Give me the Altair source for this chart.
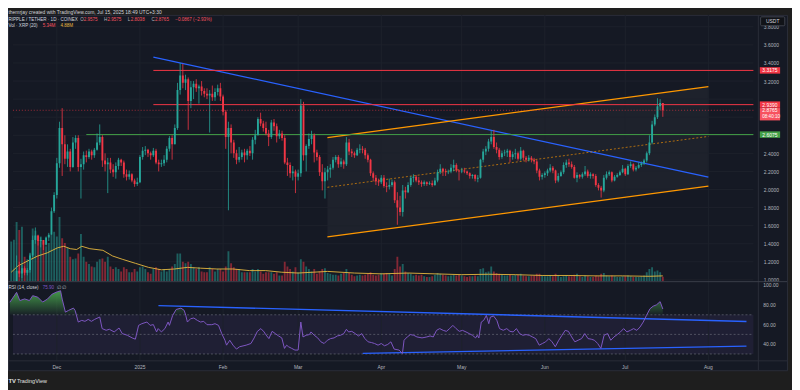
import altair as alt
import pandas as pd
import numpy as np

# ---------------- data ----------------
START_DATE = "2024-11-14"
FIRST_OPEN = 0.72

close_nov = [0.78, 0.90, 1.10, 1.07, 1.13, 1.08, 1.11, 1.27, 1.44, 1.49, 1.43, 1.44, 1.39, 1.47, 1.50, 1.76, 1.94]
high_nov = [0.81, 0.93, 1.27, 1.20, 1.17, 1.15, 1.13, 1.30, 1.49, 1.58, 1.50, 1.47, 1.44, 1.48, 1.52, 1.80, 1.97]
low_nov = [0.70, 0.77, 0.90, 1.03, 1.02, 1.05, 1.05, 1.08, 1.25, 1.40, 1.38, 1.36, 1.33, 1.38, 1.43, 1.50, 1.74]

close_dec = [2.29, 2.68, 2.50, 2.34, 2.42, 2.25, 2.52, 2.57, 2.25, 2.28, 2.38, 2.36, 2.42, 2.38, 2.44, 2.52,
             2.58, 2.32, 2.28, 2.30, 2.22, 2.19, 2.26, 2.33, 2.30, 2.17, 2.14, 2.17, 2.10, 2.06, 2.08]
high_dec = [2.35, 2.75, 2.90, 2.60, 2.50, 2.45, 2.58, 2.60, 2.60, 2.34, 2.42, 2.43, 2.45, 2.44, 2.46, 2.62,
            2.72, 2.60, 2.40, 2.35, 2.35, 2.28, 2.30, 2.35, 2.34, 2.32, 2.22, 2.21, 2.18, 2.12, 2.13]
low_dec = [1.90, 2.24, 2.15, 2.28, 2.25, 2.20, 2.24, 2.45, 2.20, 1.90, 2.22, 2.30, 2.34, 2.33, 2.35, 2.43,
           2.49, 2.25, 2.20, 1.96, 2.18, 2.14, 2.12, 2.22, 2.26, 2.13, 2.10, 2.11, 2.08, 2.03, 2.04]

close_jan = [2.36, 2.43, 2.44, 2.40, 2.38, 2.43, 2.30, 2.28, 2.29, 2.33, 2.45, 2.57, 2.50, 2.68, 3.10, 3.26,
             3.18, 3.22, 2.98, 3.13, 3.17, 3.12, 3.14, 3.09, 3.06, 3.04, 3.06, 3.02, 3.08, 3.12, 3.03]
high_jan = [2.38, 2.47, 2.48, 2.45, 2.42, 2.46, 2.45, 2.33, 2.33, 2.38, 2.48, 2.59, 2.60, 2.72, 3.18, 3.40,
            3.39, 3.27, 3.24, 3.20, 3.20, 3.22, 3.16, 3.20, 3.12, 3.12, 3.10, 3.15, 3.12, 3.16, 3.18]
low_jan = [2.07, 2.33, 2.38, 2.36, 2.33, 2.36, 2.28, 2.20, 2.25, 2.26, 2.30, 2.42, 2.33, 2.50, 2.66, 3.05,
           3.12, 3.10, 2.66, 2.90, 3.00, 3.08, 2.95, 3.04, 3.02, 3.00, 2.63, 2.98, 2.98, 3.04, 2.98]

close_feb = [2.86, 2.58, 2.68, 2.52, 2.40, 2.33, 2.36, 2.41, 2.38, 2.43, 2.40, 2.55, 2.60, 2.78, 2.73, 2.68,
             2.62, 2.58, 2.74, 2.70, 2.59, 2.62, 2.57, 2.30, 2.27, 2.18, 2.20, 2.14]
high_feb = [3.05, 2.88, 2.75, 2.72, 2.55, 2.44, 2.47, 2.44, 2.45, 2.45, 2.48, 2.58, 2.66, 2.80, 2.85, 2.76,
            2.75, 2.66, 2.77, 2.78, 2.73, 2.66, 2.65, 2.60, 2.35, 2.30, 2.26, 2.22]
low_feb = [2.82, 2.45, 1.77, 2.40, 2.35, 2.28, 2.30, 2.33, 2.30, 2.33, 2.37, 2.33, 2.50, 2.60, 2.70, 2.64,
           2.60, 2.48, 2.56, 2.65, 2.52, 2.56, 2.54, 2.28, 2.15, 2.13, 2.10, 1.96]

close_mar = [2.18, 2.93, 2.38, 2.48, 2.56, 2.60, 2.41, 2.36, 2.19, 2.09, 2.19, 2.22, 2.24, 2.33, 2.36, 2.28,
             2.31, 2.28, 2.52, 2.42, 2.40, 2.38, 2.44, 2.45, 2.44, 2.38, 2.33, 2.18, 2.13, 2.09, 2.08]
high_mar = [2.22, 3.00, 2.97, 2.50, 2.62, 2.65, 2.62, 2.44, 2.38, 2.28, 2.24, 2.26, 2.28, 2.36, 2.38, 2.38,
            2.35, 2.33, 2.58, 2.56, 2.45, 2.42, 2.46, 2.50, 2.48, 2.46, 2.40, 2.34, 2.20, 2.16, 2.12]
low_mar = [2.10, 2.14, 2.32, 2.20, 2.45, 2.50, 2.30, 2.32, 2.15, 1.99, 1.90, 2.10, 2.13, 2.22, 2.30, 2.24,
           2.25, 2.23, 2.26, 2.38, 2.36, 2.35, 2.37, 2.40, 2.40, 2.34, 2.30, 2.15, 2.09, 2.05, 2.04]

close_apr = [2.13, 2.04, 2.03, 2.05, 2.08, 1.88, 1.80, 1.75, 1.99, 1.97, 2.05, 2.13, 2.14, 2.10, 2.08, 2.06,
             2.08, 2.06, 2.07, 2.05, 2.10, 2.19, 2.23, 2.20, 2.19, 2.20, 2.24, 2.27, 2.21, 2.20]
high_apr = [2.16, 2.16, 2.08, 2.12, 2.11, 2.10, 1.97, 1.93, 2.05, 2.03, 2.08, 2.15, 2.17, 2.16, 2.14, 2.10,
            2.10, 2.09, 2.09, 2.10, 2.13, 2.22, 2.28, 2.24, 2.23, 2.22, 2.28, 2.33, 2.29, 2.22]
low_apr = [2.06, 2.02, 1.97, 2.00, 2.03, 1.85, 1.61, 1.71, 1.70, 1.90, 1.96, 2.03, 2.08, 2.08, 2.05, 2.03,
           2.04, 2.04, 2.05, 2.03, 2.04, 2.08, 2.17, 2.15, 2.15, 2.17, 2.18, 2.20, 2.19, 2.10]

close_may = [2.21, 2.20, 2.18, 2.15, 2.16, 2.12, 2.13, 2.33, 2.42, 2.45, 2.53, 2.58, 2.47, 2.44, 2.36, 2.40,
             2.41, 2.43, 2.36, 2.39, 2.40, 2.34, 2.43, 2.35, 2.33, 2.35, 2.33, 2.31, 2.21, 2.14, 2.16]
high_may = [2.24, 2.24, 2.21, 2.19, 2.17, 2.17, 2.16, 2.34, 2.45, 2.48, 2.56, 2.65, 2.66, 2.52, 2.46, 2.43,
            2.44, 2.45, 2.44, 2.42, 2.45, 2.42, 2.47, 2.44, 2.37, 2.38, 2.37, 2.35, 2.33, 2.23, 2.18]
low_may = [2.18, 2.18, 2.16, 2.12, 2.12, 2.09, 2.08, 2.12, 2.30, 2.38, 2.42, 2.50, 2.45, 2.40, 2.33, 2.34,
           2.37, 2.36, 2.30, 2.33, 2.34, 2.32, 2.32, 2.32, 2.30, 2.31, 2.30, 2.28, 2.18, 2.10, 2.11]

close_jun = [2.18, 2.21, 2.24, 2.21, 2.10, 2.15, 2.19, 2.27, 2.30, 2.28, 2.25, 2.13, 2.16, 2.14, 2.17, 2.20,
             2.15, 2.17, 2.15, 2.05, 2.02, 1.99, 2.13, 2.17, 2.19, 2.10, 2.14, 2.16, 2.19, 2.23]
high_jun = [2.20, 2.23, 2.28, 2.26, 2.22, 2.18, 2.21, 2.30, 2.33, 2.34, 2.31, 2.27, 2.19, 2.17, 2.19, 2.26,
            2.22, 2.19, 2.18, 2.17, 2.07, 2.04, 2.16, 2.20, 2.21, 2.20, 2.16, 2.18, 2.21, 2.27]
low_jun = [2.13, 2.15, 2.19, 2.18, 2.07, 2.08, 2.14, 2.17, 2.24, 2.25, 2.23, 2.12, 2.08, 2.12, 2.12, 2.15,
           2.13, 2.12, 2.12, 2.03, 1.99, 1.91, 1.97, 2.11, 2.15, 2.08, 2.09, 2.13, 2.15, 2.18]

close_jul = [2.17, 2.26, 2.28, 2.22, 2.24, 2.27, 2.29, 2.32, 2.40, 2.52, 2.72, 2.80, 2.92, 2.9575, 2.8765]
high_jul = [2.24, 2.28, 2.31, 2.29, 2.26, 2.30, 2.31, 2.34, 2.42, 2.60, 2.76, 2.83, 3.01, 3.00, 2.9575]
low_jul = [2.15, 2.16, 2.24, 2.20, 2.20, 2.23, 2.25, 2.27, 2.30, 2.38, 2.50, 2.70, 2.78, 2.88, 2.8038]

vol_nov = [49, 51, 73, 63, 67, 30, 27, 34, 65, 62, 51, 55, 45, 43, 47, 57, 61]
vol_dec = [55, 79, 53, 47, 41, 30, 27, 28, 34, 58, 30, 24, 21, 18, 17, 24, 27, 28, 24, 30, 18, 15, 17, 15,
           12, 17, 15, 11, 11, 15, 12]
vol_jan = [17, 18, 15, 11, 9, 15, 17, 15, 12, 15, 12, 15, 18, 21, 34, 34, 24, 22, 24, 21, 17, 15, 17, 12,
           11, 11, 17, 15, 12, 15, 15]
vol_feb = [12, 18, 37, 22, 17, 15, 15, 11, 11, 11, 11, 15, 12, 15, 12, 9, 11, 11, 11, 9, 11, 7, 7, 24, 18,
           15, 12, 17]
vol_mar = [11, 27, 24, 18, 15, 12, 15, 9, 12, 15, 16, 10, 9, 8, 8, 7, 9, 10, 15, 10, 8, 6, 7, 8, 7, 8, 9,
           11, 8, 7, 8]
vol_apr = [10, 9, 10, 9, 7, 15, 30, 18, 21, 12, 10, 9, 7, 8, 7, 8, 6, 5, 5, 6, 8, 10, 9, 8, 7, 6, 7, 8, 7, 8]
vol_may = [7, 6, 5, 6, 6, 7, 6, 15, 16, 11, 12, 18, 12, 10, 9, 8, 7, 7, 8, 7, 8, 8, 9, 7, 6, 6, 7, 7, 9, 9, 7]
vol_jun = [6, 6, 7, 6, 9, 7, 5, 6, 7, 6, 6, 8, 9, 6, 5, 7, 6, 5, 5, 7, 6, 9, 10, 7, 6, 7, 6, 5, 5, 6]
vol_jul = [6, 7, 6, 5, 5, 5, 6, 7, 11, 15, 17, 12, 13, 11, 5.34]

# volume MA(20), sampled along the yellow line (day offset from 2025-01-01, value)
vma_days = [-48, -45.4, -41.8, -38.1, -34.5, -30.8, -28.4, -26, -23.6, -21.7, -18.7, -13.8, -10.2, -6.6,
            -1.7, 3.2, 8, 12.9, 17.7, 22.6, 28.7, 34.7, 40.8, 46.9, 52.9, 59, 70, 80, 90, 100, 110, 120,
            130, 140, 150, 160, 170, 180, 190, 195]
vma_vals = [11, 19, 25, 31, 35, 41, 43, 40, 39, 43, 40, 38, 31, 27, 22, 17, 14, 15, 17, 16, 15, 15, 13, 13,
            11, 10, 12, 10, 9, 10, 9, 8, 8.5, 8, 7, 7, 6.5, 6.5, 6, 6.5]

# RSI(14), sampled along the purple line
rsi_days = [-48.5, -46, -44.8, -43, -41.2, -40, -38.1, -36.3, -34.5, -32.7, -30.8, -29.6, -29, -27.8, -26.6,
            -24.8, -24.2, -23, -21.7, -20.5, -19.3, -18.1, -16.9, -15, -14.1, -12.6, -11.4, -9.6, -7.8,
            -6.6, -4.7, -2.9, -1.7, -0.5, 0.7, 2.6, 3.8, 5, 6.2, 6.8, 8, 9.3, 10.5, 11, 12.2, 13.5, 15.3,
            16.5, 17.1, 17.7, 18.9, 20.1, 21.4, 22.6, 23.8, 25, 26.8, 28, 29.3, 30.5, 31.7, 32.3, 33.5,
            34.7, 36, 37.2, 39.6, 41.4, 42.6, 43.8, 45.1, 46.3, 46.9, 48.1, 49.3, 50.5, 51.7, 52.9, 53.9,
            54.7, 55.4, 56.6, 57.8, 59, 60, 60.8, 62, 63.2, 63.8, 65, 66.3, 67.5, 68.7, 69.9, 71.1, 72.4,
            73.6, 74.8, 76, 77, 77.8, 79, 80.3, 81.5, 82.7, 83.9, 85.1, 86.3, 87.5, 88.8, 90, 91.2, 92.4,
            93.6, 94.8, 96.6, 97.9, 98.5, 99.7, 100.9, 102.1, 103.3, 105.2, 107, 108.2, 109.4, 110.6,
            111.8, 113.1, 114.3, 115.5, 116.7, 117.9, 119.1, 120.3, 121.6, 122.8, 124, 125.2, 125.8,
            126.4, 127.3, 128.2, 129.2, 130.1, 130.7, 131.9, 133.1, 134.1, 135.5, 136.8, 138, 139.2,
            140.4, 141.6, 142.8, 144, 145.2, 146.4, 147.6, 148.9, 150.1, 151.3, 152.5, 153.7, 154.9,
            156.2, 157.4, 158.6, 159.8, 161, 162.2, 163.4, 164.7, 165.9, 167.1, 168.3, 169.5, 170.7,
            171.9, 173.1, 174.4, 175.6, 176.8, 178, 179.2, 180.4, 181.6, 182.9, 184.1, 185.3, 186.5,
            187.7, 188.9, 190.2, 191.4, 192.6, 194, 195]
rsi_vals = [82.8, 92.9, 84.5, 86.2, 84.5, 89.5, 88, 83, 86, 91.2, 93.5, 94.5, 86, 72.7, 74.5, 76.8, 74.5,
            62.6, 64.3, 63.3, 65.3, 63.3, 65.3, 67.7, 55.9, 54.2, 55.2, 52.5, 56.5, 50.8, 49.1, 46.4, 45.1,
            59.2, 60.9, 62.6, 59.2, 60, 52.5, 55.9, 52.5, 55.9, 62.6, 59.2, 69.3, 75.4, 76.8, 74.5, 69.3,
            62.6, 66, 66.7, 64.3, 62.6, 63.3, 59.9, 59.9, 60.9, 59.2, 50.8, 44, 39, 44, 39, 35, 37.4, 39,
            40.7, 46.4, 53.1, 55.9, 52.5, 49.8, 45.7, 53.1, 50.8, 48.4, 46.4, 35.7, 39, 37.4, 35.7, 34, 34,
            62.6, 47.4, 49.1, 49.8, 52.5, 49.1, 46.4, 42.4, 40.7, 44, 45.7, 46.4, 48.4, 49.1, 50.8, 55.2,
            52.5, 53.1, 50.8, 48.4, 50.8, 45.7, 42.4, 41.7, 40.7, 39, 40.7, 38.4, 39.7, 42.4, 35, 34, 30.6,
            44, 47.4, 49.8, 49.1, 47.4, 46.4, 47.4, 48.4, 47.4, 54.1, 55.9, 54.1, 53.1, 55.9, 59.2, 55.9,
            53.1, 54.1, 52.5, 50.8, 49.1, 46.4, 49.1, 46.4, 62.6, 64.3, 69.3, 60.9, 67.7, 68.7, 64.3, 55.9,
            54.2, 55.9, 53.1, 52.5, 55.9, 50.8, 49.1, 49.8, 49.1, 47.4, 45.7, 39, 40.7, 42.4, 45.7, 42.4,
            37.4, 44, 49.1, 54.1, 53.1, 47.4, 42.4, 44, 45.7, 50.8, 45.7, 45.1, 44, 40.7, 35.7, 49.1, 50.8,
            44, 47.4, 49.8, 52.5, 55.9, 52.5, 54.1, 55.9, 54.1, 57.5, 62.6, 69.3, 76.1, 78.8, 80.1, 83.4,
            75.9]

# drawings (day offset, price)
blue_days, blue_prices = [5.0, 212.0], [3.464, 2.136]
chan_days = [69.9, 212.0]
chan_upper = [2.574, 3.138]
chan_lower = [1.475, 2.037]
chan_mid = [2.0245, 2.5875]
level_prices = [3.3175, 2.9390, 2.6075]
level_starts = [5.0, 5.0, -20.0]
rsi_up_days, rsi_up_vals = [6.9, 226.2], [79.4, 63.2]
rsi_lo_days, rsi_lo_vals = [83.1, 226.2], [30.6, 38.0]
last_price = 2.8765

# axis tick values / labels
price_grid = [1.0, 1.2, 1.4, 1.6, 1.8, 2.0, 2.2, 2.4, 2.6, 2.8, 3.0, 3.2, 3.4, 3.6, 3.8]
price_labels = [1.0, 1.2, 1.4, 1.6, 1.8, 2.0, 2.2, 2.4, 3.2, 3.4, 3.6, 3.8]
rsi_ticks = [40, 60, 80, 100]
month_days = [-31, 0, 31, 59, 90, 120, 151, 181, 212]
month_labels = ["Dec", "2025", "Feb", "Mar", "Apr", "May", "Jun", "Jul", "Aug"]

# ---------------- frames ----------------
closes = close_nov + close_dec + close_jan + close_feb + close_mar + close_apr + close_may + close_jun + close_jul
highs = high_nov + high_dec + high_jan + high_feb + high_mar + high_apr + high_may + high_jun + high_jul
lows = low_nov + low_dec + low_jan + low_feb + low_mar + low_apr + low_may + low_jun + low_jul
volumes = vol_nov + vol_dec + vol_jan + vol_feb + vol_mar + vol_apr + vol_may + vol_jun + vol_jul
opens = [FIRST_OPEN] + closes[:-1]

dates = pd.date_range(START_DATE, periods=len(closes), freq="D")
days = (dates - pd.Timestamp("2025-01-01")).days
candles = pd.DataFrame({"date": dates.strftime("%Y-%m-%d"), "d": days, "o": opens, "h": highs,
                        "l": lows, "c": closes, "v": volumes})
candles["dir"] = np.where(candles["c"] >= candles["o"], "up", "down")

X_MIN, X_MAX = -47.36, 228.78

# ---------------- style ----------------
FONT = "Liberation Sans"
BG = "#1e1e1e"
PANE = "#151924"
GRID = "#1d212c"
SEP = "#2a2e39"
TXT = "#d1d4dc"
GRAY = "#b2b5be"
TEAL = "#26a69a"
RED = "#f23645"
RED2 = "#f7525f"
GREEN = "#43a047"
BLUE = "#2962ff"
ORANGE = "#ff9800"
PURPLE = "#7e57c2"
YELLOW = "#e9b93f"

XS = alt.Scale(domain=[X_MIN, X_MAX], range=[0, 758], nice=False, zero=False)
PS = alt.Scale(domain=[0.9858, 3.932], range=[269, 0], nice=False, zero=False, clamp=True)
VS = alt.Scale(domain=[0, 100], range=[269, 187], nice=False, zero=True)
RS = alt.Scale(domain=[23.5, 103.3], range=[349, 270], nice=False, zero=False)
DIRC = alt.Scale(domain=["up", "down"], range=[TEAL, RED])


def xq(field="d"):
    return alt.X(f"{field}:Q", scale=XS, axis=None)


def yp(field):
    return alt.Y(f"{field}:Q", scale=PS, axis=None)


def yr(field):
    return alt.Y(f"{field}:Q", scale=RS, axis=None)


ONE = pd.DataFrame({"k": [0]})


def txt(s, x, y, color=GRAY, size=5, align="left", baseline="middle", weight="normal"):
    return alt.Chart(ONE).mark_text(text=s, align=align, baseline=baseline, color=color,
                                    fontSize=size, font=FONT, fontWeight=weight).encode(
        x=alt.value(x), y=alt.value(y))


layers = []

# channel fill
chan_df = pd.DataFrame({"d": chan_days, "lo": chan_lower, "hi": chan_upper})
layers.append(alt.Chart(chan_df).mark_area(color="#9598a1", opacity=0.07, clip=True).encode(
    x=xq(), y=yp("lo"), y2="hi:Q"))

# RSI band 30-70
band_df = pd.DataFrame({"x0": [X_MIN], "x1": [X_MAX], "r0": [30], "r1": [70]})
layers.append(alt.Chart(band_df).mark_rect(color=PURPLE, opacity=0.1).encode(
    x=alt.X("x0:Q", scale=XS, axis=None), x2="x1:Q", y=yr("r0"), y2="r1:Q"))

# grids
pg_df = pd.DataFrame({"p": price_grid, "x0": X_MIN, "x1": X_MAX})
layers.append(alt.Chart(pg_df).mark_rule(color=GRID, strokeWidth=1).encode(
    x=alt.X("x0:Q", scale=XS, axis=None), x2="x1:Q", y=yp("p")))
vg_df = pd.DataFrame({"d": month_days})
layers.append(alt.Chart(vg_df).mark_rule(color=GRID, strokeWidth=1).encode(
    x=xq(), y=alt.value(0), y2=alt.value(349)))

# volume
layers.append(alt.Chart(candles).mark_bar(size=1.9, opacity=0.5, clip=True).encode(
    x=xq(), y=alt.Y("v:Q", scale=VS, axis=None),
    color=alt.Color("dir:N", scale=DIRC, legend=None)))
vma_df = pd.DataFrame({"d": vma_days, "m": vma_vals})
layers.append(alt.Chart(vma_df).mark_line(color=YELLOW, strokeWidth=0.9, clip=True).encode(
    x=xq(), y=alt.Y("m:Q", scale=VS, axis=None)))

# trend lines
layers.append(alt.Chart(pd.DataFrame({"d": blue_days, "p": blue_prices})).mark_line(
    color=BLUE, strokeWidth=1.2).encode(x=xq(), y=yp("p")))
for arr in (chan_upper, chan_lower):
    layers.append(alt.Chart(pd.DataFrame({"d": chan_days, "p": arr})).mark_line(
        color=ORANGE, strokeWidth=1.2).encode(x=xq(), y=yp("p")))
layers.append(alt.Chart(pd.DataFrame({"d": chan_days, "p": chan_mid})).mark_line(
    color=ORANGE, strokeWidth=0.8, strokeDash=[2, 2], opacity=0.8).encode(x=xq(), y=yp("p")))

# horizontal levels
lvl_df = pd.DataFrame({"p": level_prices, "x0": level_starts, "x1": X_MAX,
                       "col": [RED, RED, GREEN]})
layers.append(alt.Chart(lvl_df).mark_rule(strokeWidth=1).encode(
    x=alt.X("x0:Q", scale=XS, axis=None), x2="x1:Q", y=yp("p"),
    color=alt.Color("col:N", scale=None)))

# RSI dashed levels
rl_df = pd.DataFrame({"r": [70, 50, 30], "x0": X_MIN, "x1": X_MAX})
layers.append(alt.Chart(rl_df).mark_rule(color="#787b86", strokeWidth=0.7, strokeDash=[2, 2],
                                         opacity=0.8).encode(
    x=alt.X("x0:Q", scale=XS, axis=None), x2="x1:Q", y=yr("r")))

# RSI trend lines
for dd, vv in ((rsi_up_days, rsi_up_vals), (rsi_lo_days, rsi_lo_vals)):
    layers.append(alt.Chart(pd.DataFrame({"d": dd, "r": vv})).mark_line(
        color=BLUE, strokeWidth=1.4).encode(x=xq(), y=yr("r")))

# RSI overbought fill + line
rsi_df = pd.DataFrame({"d": rsi_days, "r": rsi_vals})
grad = alt.Gradient(gradient="linear",
                    stops=[alt.GradientStop(color="rgba(76,175,80,0.85)", offset=0),
                           alt.GradientStop(color="rgba(76,175,80,0.05)", offset=1)],
                    x1=1, x2=1, y1=0, y2=1)
layers.append(alt.Chart(rsi_df).transform_calculate(ob="max(datum.r, 70)", base="70").mark_area(
    color=grad, clip=True).encode(x=xq(), y=yr("ob"), y2="base:Q"))
layers.append(alt.Chart(rsi_df).mark_line(color=PURPLE, strokeWidth=1, clip=True).encode(
    x=xq(), y=yr("r")))

# candles (wicks carry the price axis)
p_axis = alt.Axis(orient="right", offset=-29, values=price_labels, format=".4f", labelColor=GRAY,
                  labelFontSize=5, labelFont=FONT, domain=False, ticks=False, grid=False,
                  labelPadding=5, title=None, labelOverlap=False, labelFlush=False)

layers.append(alt.Chart(candles).mark_rule(strokeWidth=0.8, clip=True).encode(
    x=xq(), y=alt.Y("l:Q", scale=PS, axis=p_axis), y2="h:Q",
    color=alt.Color("dir:N", scale=DIRC, legend=None)))
layers.append(alt.Chart(candles).mark_bar(size=1.9, clip=True).encode(
    x=xq(), y=yp("o"), y2="c:Q", color=alt.Color("dir:N", scale=DIRC, legend=None)))

# last price dotted line
layers.append(alt.Chart(pd.DataFrame({"p": [last_price], "x0": [X_MIN], "x1": [X_MAX]})).mark_rule(
    color=RED, strokeWidth=0.8, strokeDash=[1, 2], opacity=0.8).encode(
    x=alt.X("x0:Q", scale=XS, axis=None), x2="x1:Q", y=yp("p")))

# time axis labels
ml_df = pd.DataFrame({"d": month_days, "t": month_labels})
layers.append(alt.Chart(ml_df).mark_text(color=GRAY, fontSize=5, font=FONT, align="center",
                                         baseline="middle").encode(
    x=xq(), y=alt.value(355.3), text="t:N"))

# separators
layers.append(alt.Chart(ONE).mark_rule(color=SEP, strokeWidth=1).encode(
    x=alt.value(758), y=alt.value(0), y2=alt.value(359)))
layers.append(alt.Chart(ONE).mark_rule(color="#3a3e49", strokeWidth=1).encode(
    x=alt.value(0), x2=alt.value(787), y=alt.value(269.5)))
layers.append(alt.Chart(ONE).mark_rule(color=SEP, strokeWidth=1).encode(
    x=alt.value(0), x2=alt.value(787), y=alt.value(349.5)))

# price badges
badge_df = pd.DataFrame({"p": [3.3175, 2.9390, 2.6075], "col": [RED, RED, GREEN],
                         "t": ["3.3175", "2.9390", "2.6075"]})
layers.append(alt.Chart(badge_df).mark_rule(strokeWidth=6.5).encode(
    x=alt.value(759.5), x2=alt.value(780), y=yp("p"), color=alt.Color("col:N", scale=None)))
layers.append(alt.Chart(pd.DataFrame({"p": [last_price]})).mark_rule(
    strokeWidth=12.5, color=RED2, yOffset=4).encode(x=alt.value(759.5), x2=alt.value(780), y=yp("p")))
layers.append(alt.Chart(badge_df).mark_text(color="white", fontSize=5, font=FONT, align="left",
                                            baseline="middle").encode(
    x=alt.value(762), y=yp("p"), text="t:N"))
layers.append(alt.Chart(pd.DataFrame({"p": [last_price]})).mark_text(
    text="2.8765", color="white", fontSize=5, font=FONT, align="left", baseline="middle").encode(
    x=alt.value(762), y=yp("p")))
layers.append(alt.Chart(pd.DataFrame({"p": [last_price]})).mark_text(
    text="08:40:10", color="white", fontSize=4.6, font=FONT, align="left", baseline="middle",
    dy=6.5).encode(x=alt.value(762), y=yp("p")))

# RSI tick labels
rt_df = pd.DataFrame({"r": rsi_ticks, "t": [f"{v:.2f}" for v in rsi_ticks]})
layers.append(alt.Chart(rt_df).mark_text(color=GRAY, fontSize=5, font=FONT, align="left",
                                         baseline="middle").encode(
    x=alt.value(763), y=yr("r"), text="t:N"))

# USDT box
layers.append(alt.Chart(ONE).mark_rect(fill="#111318", stroke="#4a4d57", strokeWidth=0.8,
                                       cornerRadius=1).encode(
    x=alt.value(760.3), x2=alt.value(784.7), y=alt.value(2), y2=alt.value(11)))
layers.append(txt("USDT", 772.5, 6.7, color=TXT, size=5, align="center"))

# header / legends / footer
layers.append(txt("themrjay created with TradingView.com, Jul 15, 2025 18:49 UTC+3:30", 0.5, -4.6,
                  color=TXT, size=5, baseline="top"))
layers.append(txt("RIPPLE / TETHER · 1D · COINEX", 0.5, 5, color=TXT, size=4.6))
for s, x, col in [("O", 73, GRAY), ("2.9575", 76.5, RED2), ("H", 97, GRAY), ("2.9575", 100.5, RED2),
                  ("L", 121, GRAY), ("2.8038", 124, RED2), ("C", 145, GRAY), ("2.8765", 148.5, RED2),
                  ("−0.0867 (−2.93%)", 169, RED2)]:
    layers.append(txt(s, x, 5, color=col, size=4.6))
layers.append(txt("Vol · XRP (20)", 0.5, 11.7, color=TXT, size=4.6))
layers.append(txt("5.34M", 35, 11.7, color=RED2, size=4.6))
layers.append(txt("4.88M", 53, 11.7, color=YELLOW, size=4.6))
layers.append(txt("RSI (14, close)", 0.5, 276.3, color=TXT, size=4.6))
layers.append(txt("75.90", 35, 276.3, color=PURPLE, size=4.6))
layers.append(txt("∅  ∅", 49, 276.3, color=GRAY, size=4.6))
layers.append(txt("TV", 0.5, 369.5, color="#e0e0e0", size=6, weight="bold"))
layers.append(txt("TradingView", 9, 369.5, color="#e0e0e0", size=5.5))

chart = alt.layer(*layers).resolve_scale(y="independent").properties(
    width=787, height=359,
    padding={"left": 0, "top": 5, "right": 5, "bottom": 18},
    autosize=alt.AutoSizeParams(type="none"),
    background=BG,
).configure_view(fill=PANE, stroke=SEP, strokeWidth=1)

chart.save("out.html", embed_options={"renderer": "svg", "actions": False})
